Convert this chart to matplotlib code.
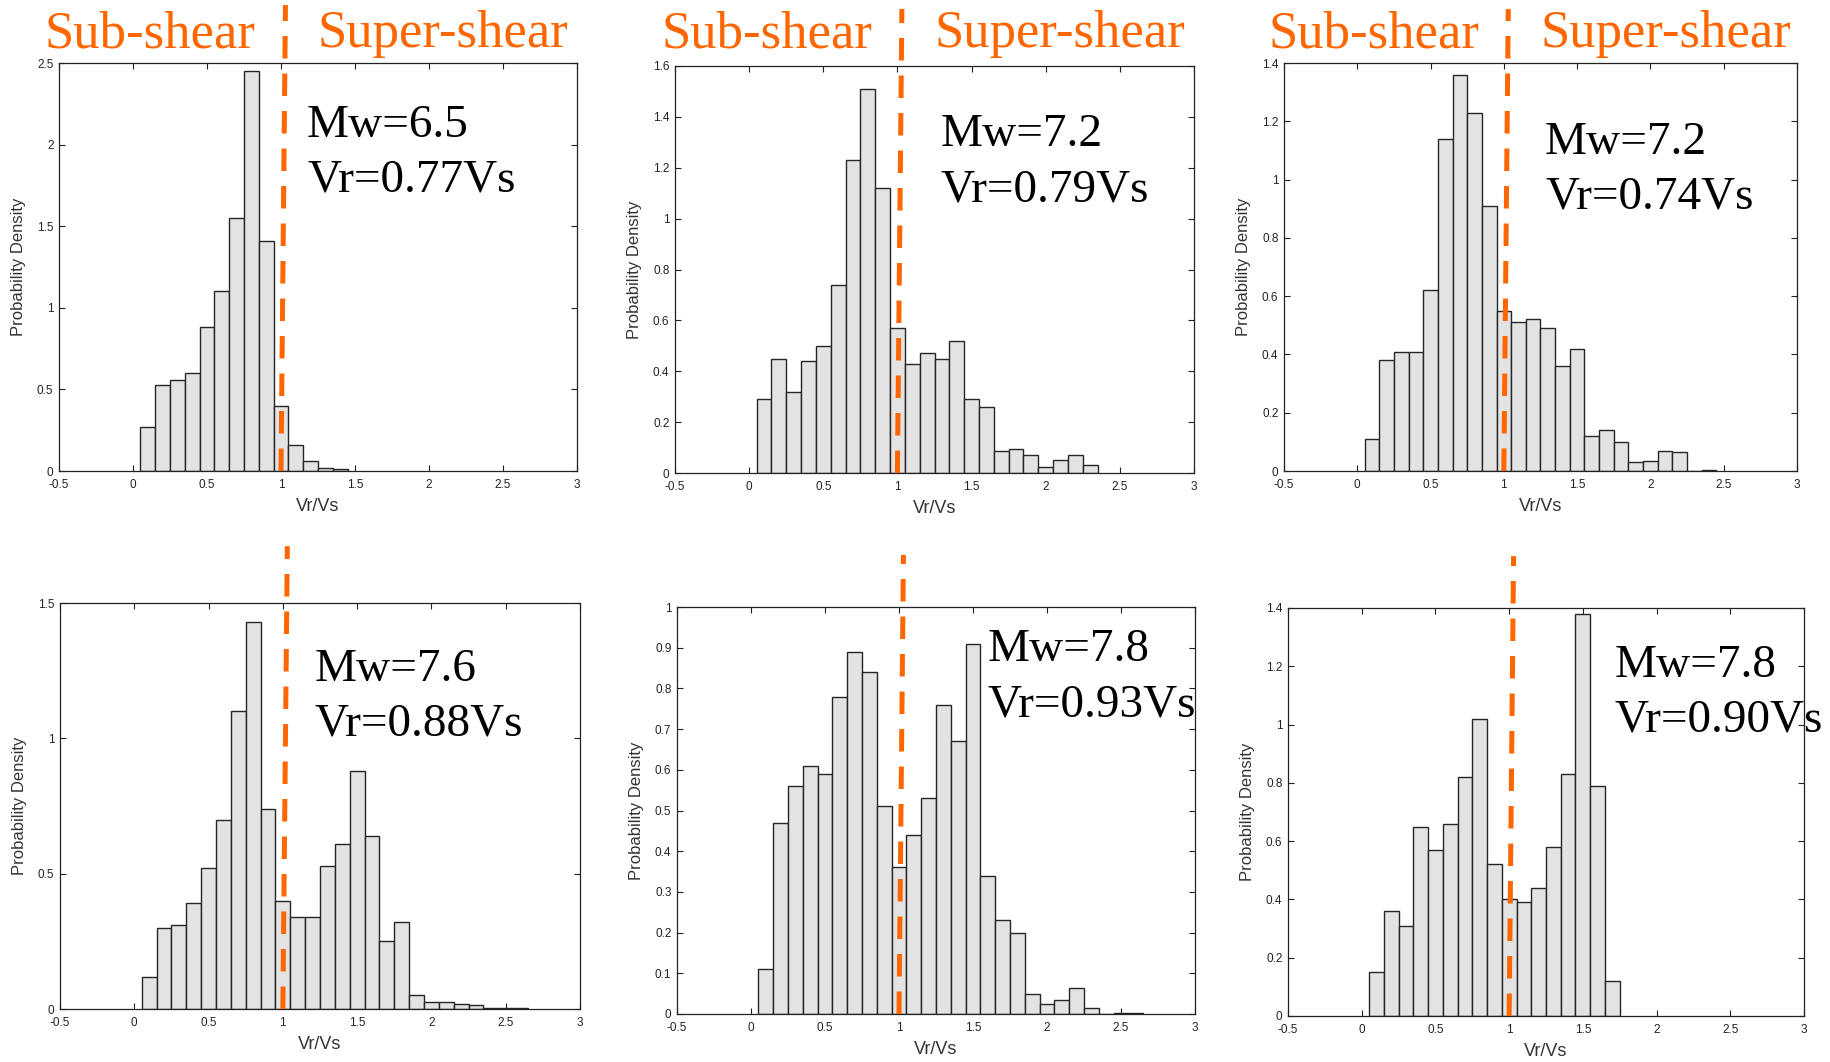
import numpy as np
import matplotlib.pyplot as plt
from matplotlib.ticker import FuncFormatter, MultipleLocator

plt.rcParams['font.family'] = ['Liberation Sans', 'DejaVu Sans']
plt.rcParams['axes.unicode_minus'] = False

# probability density of Vr/Vs in 0.1 wide bins, first bin centred on 0.1
density_mw65 = [0.27, 0.53, 0.56, 0.60, 0.88, 1.10, 1.55, 2.45, 1.41, 0.40,
                0.16, 0.06, 0.02, 0.015]
density_mw72a = [0.29, 0.45, 0.32, 0.44, 0.50, 0.74, 1.23, 1.51, 1.12, 0.57,
                 0.43, 0.47, 0.45, 0.52, 0.29, 0.26, 0.085, 0.095, 0.07, 0.025,
                 0.05, 0.07, 0.03]
density_mw72b = [0.11, 0.38, 0.41, 0.41, 0.62, 1.14, 1.36, 1.23, 0.91, 0.55,
                 0.51, 0.52, 0.49, 0.36, 0.42, 0.12, 0.14, 0.10, 0.03, 0.035,
                 0.07, 0.065, 0.0, 0.005]
density_mw76 = [0.12, 0.30, 0.31, 0.39, 0.52, 0.70, 1.10, 1.43, 0.74, 0.40,
                0.34, 0.34, 0.53, 0.61, 0.88, 0.64, 0.25, 0.32, 0.05, 0.025,
                0.025, 0.02, 0.015, 0.005, 0.005, 0.005]
density_mw78a = [0.11, 0.47, 0.56, 0.61, 0.59, 0.78, 0.89, 0.84, 0.51, 0.36,
                 0.44, 0.53, 0.76, 0.67, 0.91, 0.34, 0.23, 0.20, 0.05, 0.025,
                 0.035, 0.065, 0.015, 0.0, 0.003, 0.003]
density_mw78b = [0.15, 0.36, 0.31, 0.65, 0.57, 0.66, 0.82, 1.02, 0.52, 0.40,
                 0.39, 0.44, 0.58, 0.83, 1.38, 0.79, 0.12]

densities = [density_mw65, density_mw72a, density_mw72b,
             density_mw76, density_mw78a, density_mw78b]
magnitudes = ['6.5', '7.2', '7.2', '7.6', '7.8', '7.8']
mean_ratios = ['0.77', '0.79', '0.74', '0.88', '0.93', '0.90']
y_max = [2.5, 1.6, 1.4, 1.5, 1.0, 1.4]
y_step = [0.5, 0.2, 0.2, 0.5, 0.1, 0.2]
bin_width = 0.1
shear_limit = 1.0

W, H = 1831, 1062
# axes boxes in pixels: left, right, top, bottom
boxes = [(59, 577, 63, 471), (675, 1194, 66, 473), (1284, 1797, 63, 471),
         (60, 580, 603, 1009), (677, 1195, 607, 1014), (1288, 1804, 608, 1016)]
# where the first text line sits (axes fraction)
label_pos = [(0.479, 0.819), (0.511, 0.803), (0.509, 0.777),
             (0.490, 0.808), (0.600, 0.867), (0.633, 0.831)]
# how far the dashed divider reaches above each axes
line_top = [1.142, 1.14, 1.132, 1.14, 1.128, 1.127]

orange = '#ff6600'
lean = 0.03

fig = plt.figure(figsize=(W / 100, H / 100), dpi=100)

for i, dens in enumerate(densities):
    l, r, t, b = boxes[i]
    ax = fig.add_axes([l / W, 1 - b / H, (r - l) / W, (b - t) / H])
    centers = bin_width * (np.arange(len(dens)) + 1)
    ax.bar(centers, dens, width=bin_width, color='#e3e3e3',
           edgecolor='#262626', linewidth=1.0, zorder=2)

    ax.set_xlim(-0.5, 3)
    ax.set_ylim(0, y_max[i])
    ax.xaxis.set_major_locator(MultipleLocator(0.5))
    ax.yaxis.set_major_locator(MultipleLocator(y_step[i]))
    fmt = FuncFormatter(lambda v, p: '%g' % round(v, 3))
    ax.xaxis.set_major_formatter(fmt)
    ax.yaxis.set_major_formatter(fmt)
    ax.tick_params(direction='in', length=4, width=0.8, top=True, right=True,
                   labelsize=8.5, colors='#222222')
    ax.tick_params(axis='x', pad=6)
    ax.tick_params(axis='y', pad=4)
    for s in ax.spines.values():
        s.set_linewidth(0.9)
        s.set_color('#222222')
    ax.set_xlabel('Vr/Vs', fontsize=13, color='#333333', labelpad=5)
    ax.set_ylabel('Probability Density', fontsize=12, color='#333333',
                  labelpad=8)

    # sub-shear / super-shear divider
    ax.plot([shear_limit, shear_limit + lean], [0.0, line_top[i]],
            transform=ax.get_xaxis_transform(), clip_on=False,
            color=orange, linewidth=3.6, dashes=(4.5, 3), zorder=5)

    xf, yf = label_pos[i]
    for k, line in enumerate(['Mw=' + magnitudes[i],
                              'Vr=' + mean_ratios[i] + 'Vs']):
        ax.annotate(line, xy=(xf, yf), xycoords='axes fraction',
                    xytext=(0, -39.6 * k), textcoords='offset points',
                    va='baseline', ha='left', fontsize=34,
                    family='Liberation Serif', color='black',
                    annotation_clip=False, zorder=6)

    if i < 3:
        ytitle = 1 + (t - 47) / (b - t)
        top_x = shear_limit + lean
        ax.text(top_x - 0.2, ytitle, 'Sub-shear',
                transform=ax.get_xaxis_transform(), ha='right',
                va='baseline', fontsize=38, family='Liberation Serif',
                color=orange)
        ax.text(top_x + 0.22, ytitle, 'Super-shear',
                transform=ax.get_xaxis_transform(), ha='left',
                va='baseline', fontsize=38, family='Liberation Serif',
                color=orange)

fig.savefig('out.png', dpi=100)
